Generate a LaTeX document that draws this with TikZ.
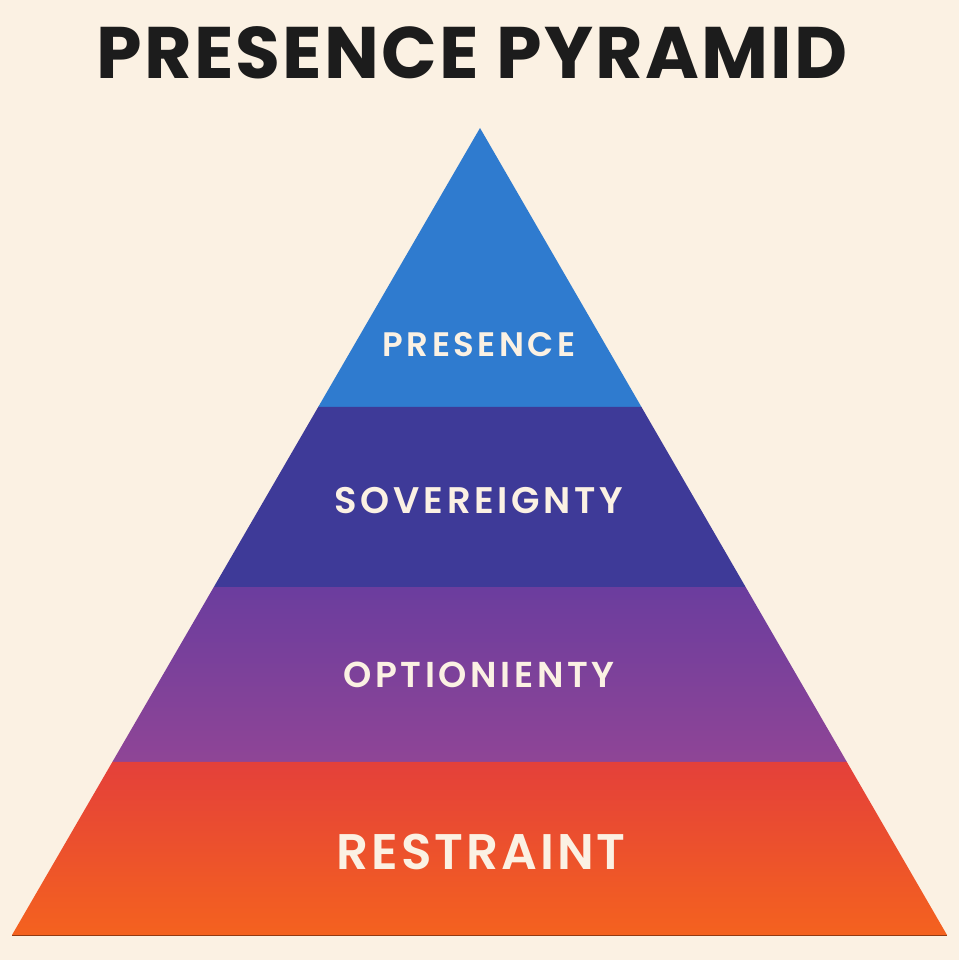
\documentclass[tikz,border=0pt]{standalone}
\usepackage{fontspec}
\setmainfont{Poppins}
\newfontfamily\titlefont{Poppins}[LetterSpace=3.0]
\newfontfamily\labelfont{Poppins}[UprightFont=* SemiBold, LetterSpace=10.0]
\newfontfamily\baselabelfont{Poppins}[UprightFont=* SemiBold, LetterSpace=6.0]
\usetikzlibrary{
    calc,
    positioning
}
\definecolor{paper}{HTML}{FBF1E3}
\definecolor{ink}{HTML}{1C1C1C}
\definecolor{cream}{HTML}{FBF1E3}
\definecolor{skyblue}{HTML}{2F7BCF}
\definecolor{indigo}{HTML}{3E3A98}
\definecolor{plumtop}{HTML}{6B3D9E}
\definecolor{plumbot}{HTML}{8F4596}
\definecolor{redtop}{HTML}{E4403A}
\definecolor{redbot}{HTML}{F4621F}
\newcommand{\pyrband}[3]{
    \path[#3] ($(apex)!#1!(bl)$) -- ($(apex)!#1!(br)$) -- ($(apex)!#2!(br)$) -- ($(apex)!#2!(bl)$) -- cycle;
}

\begin{document}
\begin{tikzpicture}[x=1pt, y=-1pt,
    band label/.style={text=cream, inner sep=0pt, font=\labelfont\fontsize{34}{36}\selectfont}]
    \useasboundingbox[fill=paper] (0, 0) rectangle (959, 960);
    \node[text=ink, inner sep=0pt, font=\titlefont\bfseries\fontsize{73}{80}\selectfont] (title) at (472, 53) {PRESENCE PYRAMID};
    \coordinate (apex) at (480, 128);
    \coordinate (bl) at (12, 935);
    \coordinate (br) at (947, 935);
    % bands, top to bottom
    \pyrband{0}{0.3457}{fill=skyblue}
    \pyrband{0.3457}{0.5688}{fill=indigo}
    \pyrband{0.5688}{0.7856}{top color=plumtop, bottom color=plumbot}
    \pyrband{0.7856}{1}{top color=redtop, bottom color=redbot}
    \draw[redbot!60!black, line width=0.6pt] (bl) -- (br);
    \node[band label] (presence) at (479, 345) {PRESENCE};
    \node[band label, font=\labelfont\fontsize{37}{40}\selectfont] (sovereignty) at (479, 501) {SOVEREIGNTY};
    \node[band label, font=\labelfont\fontsize{36}{40}\selectfont] (optionienty) at (479, 675) {OPTIONIENTY};
    \node[band label, font=\baselabelfont\fontsize{50}{54}\selectfont] (restraint) at (481, 852) {RESTRAINT};
\end{tikzpicture}
\end{document}
